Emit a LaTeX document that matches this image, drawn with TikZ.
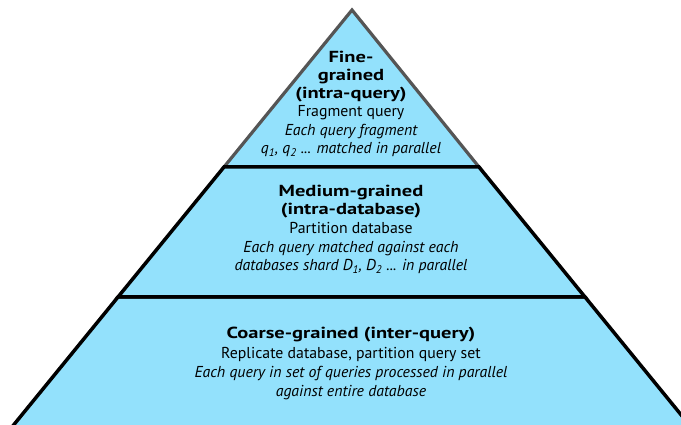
\documentclass[tikz,border=0pt]{standalone}
\usepackage{graphicx}
\usepackage{fontspec}
\setmainfont{PT Sans}
\newcommand\hx[1]{\scalebox{1.28}[1]{#1}}
\definecolor{layerblue}{RGB}{147,225,252}
\definecolor{apexgray}{RGB}{85,85,85}
\tikzset{
  layer/.style={fill=layerblue, draw=black, line width=3.5pt, line join=miter},
  toplayer/.style={fill=layerblue, draw=apexgray, line width=3.2pt, line join=miter},
  ln/.style={anchor=base, inner sep=0pt, font=\fontsize{15.8}{18}\selectfont},
  hd/.style={ln, font=\fontsize{16}{18}\selectfont\bfseries},
  it/.style={ln, font=\fontsize{15.8}{18}\selectfont\itshape},
}
\begin{document}
\begin{tikzpicture}[x=1pt,y=-1pt]
\useasboundingbox (0,0) rectangle (681,425);
\begin{scope}
\clip (0,0) rectangle (681,425);
% bottom layer
\draw[layer] (118,297) -- (585,297) -- (700,438) -- (3,438) -- cycle;
% top triangle
\draw[toplayer] (224,167) -- (352,10) -- (479,167) -- cycle;
% middle layer
\draw[layer] (224,167) -- (479,167) -- (585,297) -- (118,297) -- cycle;
\end{scope}
% top text
\node[hd] (t1) at (351,63) {\hx{Fine-}};
\node[hd] (t2) at (351,81) {\hx{grained}};
\node[hd] (t3) at (351,99) {\hx{(intra-query)}};
\node[ln] (t4) at (351,117) {Fragment query};
\node[it] (t5) at (351,136) {Each query fragment};
\node[it] (t6) at (351,154) {q\textsubscript{\itshape 1}, q\textsubscript{2} ... matched in parallel};
% middle text
\node[hd] (m1) at (351,197) {\hx{Medium-grained}};
\node[hd] (m2) at (351,215) {\hx{(intra-database)}};
\node[ln] (m3) at (351,234) {Partition database};
\node[it] (m4) at (351,253) {Each query matched against each};
\node[it] (m5) at (351,271) {databases shard D\textsubscript{1}, D\textsubscript{2} ... in parallel};
% bottom text
\node[hd] (b1) at (351,338) {\hx{Coarse-grained (inter-query)}};
\node[ln] (b2) at (351,358) {Replicate database, partition query set};
\node[it] (b3) at (351,377) {Each query in set of queries processed in parallel};
\node[it] (b4) at (351,396) {against entire database};
\end{tikzpicture}
\end{document}
